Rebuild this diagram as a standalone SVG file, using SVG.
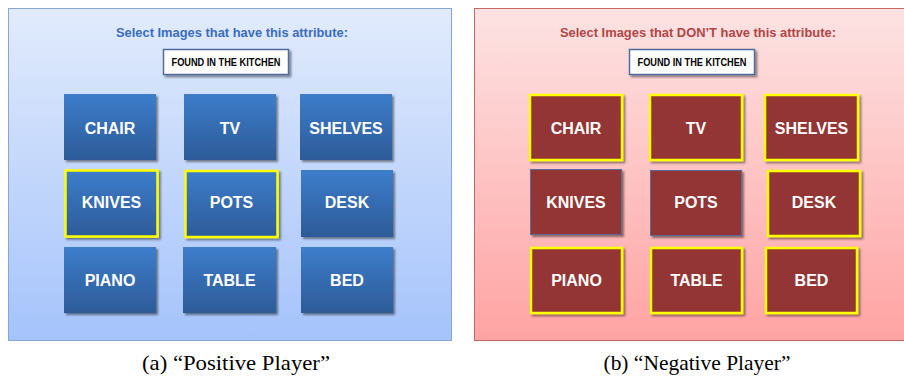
<svg xmlns="http://www.w3.org/2000/svg" width="904" height="381" viewBox="0 0 904 381">
  <defs>
    <linearGradient id="bgBlue" x1="0" y1="0" x2="0" y2="1">
      <stop offset="0" stop-color="#e1ebfc"/>
      <stop offset="1" stop-color="#a5c3fb"/>
    </linearGradient>
    <linearGradient id="bgRed" x1="0" y1="0" x2="0" y2="1">
      <stop offset="0" stop-color="#fde3e3"/>
      <stop offset="1" stop-color="#ffa3a3"/>
    </linearGradient>
    <linearGradient id="tileBlue" x1="0" y1="0" x2="0" y2="1">
      <stop offset="0" stop-color="#3d7dcb"/>
      <stop offset="1" stop-color="#2d5b98"/>
    </linearGradient>
    <filter id="shadow" x="-10%" y="-10%" width="130%" height="130%">
      <feDropShadow dx="2" dy="2" stdDeviation="1.2" flood-color="#000" flood-opacity="0.45"/>
    </filter>
  </defs>
  <style>
    .title { font-family: "Liberation Sans", Arial, sans-serif; font-weight: bold; font-size: 13.5px; text-anchor: middle; }
    .attr { font-family: "Liberation Sans", Arial, sans-serif; font-weight: bold; font-size: 10.5px; text-anchor: middle; fill: #000; }
    .lbl { font-family: "Liberation Sans", Arial, sans-serif; font-weight: bold; font-size: 16px; text-anchor: middle; fill: #fff; }
    .cap { font-family: "Liberation Serif", "Times New Roman", serif; font-size: 21px; text-anchor: middle; fill: #000; }
    .attrbox { fill: #fff; stroke: #4f6c9c; stroke-width: 1.5; filter: url(#shadow); }
    .blue { fill: url(#tileBlue); filter: url(#shadow); }
    .red { fill: #943634; filter: url(#shadow); }
    .sel { stroke: #ffff00; stroke-width: 2.5; }
    .plain { stroke: #5a6c9e; stroke-width: 1; }
  </style>

  <!-- Positive player screen -->
  <g id="panel-positive">
    <rect x="8.5" y="8.5" width="443" height="332" fill="url(#bgBlue)" stroke="#86a6d6" stroke-width="1"/>
    <text class="title" x="232" y="37" fill="#3a6dbd" textLength="232" lengthAdjust="spacingAndGlyphs">Select Images that have this attribute:</text>
    <rect class="attrbox" x="163.5" y="49.5" width="125" height="25"/>
    <text class="attr" x="226" y="66" textLength="109" lengthAdjust="spacingAndGlyphs">FOUND IN THE KITCHEN</text>
  </g>
  <g id="pos-chair"><rect class="blue" x="64" y="94" width="92" height="66"/><text class="lbl" x="110" y="134">CHAIR</text></g>
  <g id="pos-tv"><rect class="blue" x="184" y="94" width="92" height="66"/><text class="lbl" x="230" y="134">TV</text></g>
  <g id="pos-shelves"><rect class="blue" x="300" y="94" width="92" height="66"/><text class="lbl" x="346" y="134">SHELVES</text></g>
  <g id="pos-knives"><rect class="blue sel" x="65.5" y="170.5" width="92" height="66"/><text class="lbl" x="111.5" y="208">KNIVES</text></g>
  <g id="pos-pots"><rect class="blue sel" x="185.5" y="171" width="92" height="66"/><text class="lbl" x="231.5" y="208">POTS</text></g>
  <g id="pos-desk"><rect class="blue" x="301" y="170" width="92" height="67"/><text class="lbl" x="347" y="208">DESK</text></g>
  <g id="pos-piano"><rect class="blue" x="64" y="247" width="92" height="66"/><text class="lbl" x="110" y="286">PIANO</text></g>
  <g id="pos-table"><rect class="blue" x="183" y="247" width="93" height="66"/><text class="lbl" x="229.5" y="286">TABLE</text></g>
  <g id="pos-bed"><rect class="blue" x="301" y="247" width="92" height="66"/><text class="lbl" x="347" y="286">BED</text></g>

  <!-- Negative player screen -->
  <g id="panel-negative">
    <rect x="474.5" y="8.5" width="440" height="332" fill="url(#bgRed)" stroke="#c86666" stroke-width="1"/>
    <text class="title" x="698" y="37" fill="#b24646" textLength="276" lengthAdjust="spacingAndGlyphs">Select Images that DON’T have this attribute:</text>
    <rect class="attrbox" x="629.5" y="49.5" width="125" height="25"/>
    <text class="attr" x="692" y="66" textLength="109" lengthAdjust="spacingAndGlyphs">FOUND IN THE KITCHEN</text>
  </g>
  <g id="neg-chair"><rect class="red sel" x="530" y="95" width="92" height="65"/><text class="lbl" x="576" y="134">CHAIR</text></g>
  <g id="neg-tv"><rect class="red sel" x="650" y="95" width="92" height="65"/><text class="lbl" x="696" y="134">TV</text></g>
  <g id="neg-shelves"><rect class="red sel" x="765" y="95" width="93" height="65"/><text class="lbl" x="811.5" y="134">SHELVES</text></g>
  <g id="neg-knives"><rect class="red plain" x="530.5" y="169.5" width="91" height="65"/><text class="lbl" x="576" y="208">KNIVES</text></g>
  <g id="neg-pots"><rect class="red plain" x="650.5" y="170.5" width="91" height="65"/><text class="lbl" x="696" y="208">POTS</text></g>
  <g id="neg-desk"><rect class="red sel" x="768" y="171" width="92" height="65"/><text class="lbl" x="814" y="208">DESK</text></g>
  <g id="neg-piano"><rect class="red sel" x="531" y="248" width="91" height="65"/><text class="lbl" x="576.5" y="286">PIANO</text></g>
  <g id="neg-table"><rect class="red sel" x="651" y="248" width="91" height="65"/><text class="lbl" x="696.5" y="286">TABLE</text></g>
  <g id="neg-bed"><rect class="red sel" x="766" y="248" width="91" height="65"/><text class="lbl" x="811.5" y="286">BED</text></g>

  <!-- Sub-figure captions -->
  <text class="cap" x="236" y="370" textLength="188" lengthAdjust="spacingAndGlyphs">(a)  “Positive Player”</text>
  <text class="cap" x="697" y="370" textLength="187" lengthAdjust="spacingAndGlyphs">(b)  “Negative Player”</text>
</svg>
